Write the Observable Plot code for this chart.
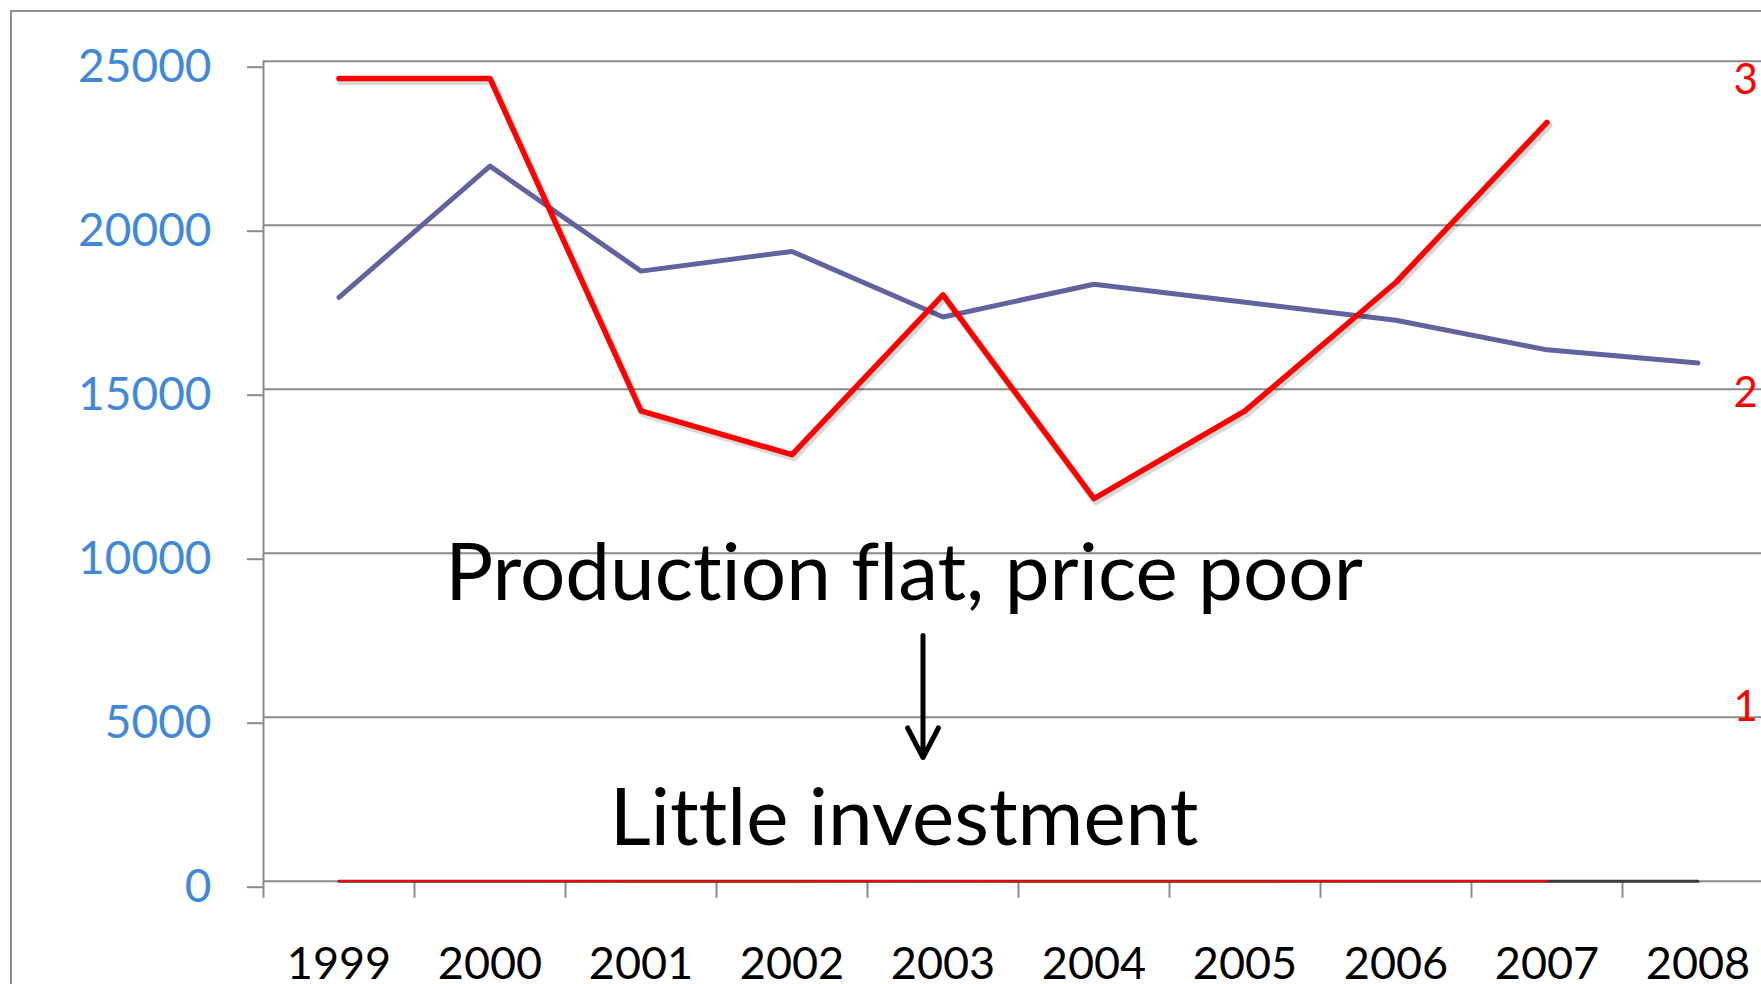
<!DOCTYPE html>
<html><head><meta charset="utf-8">
<script src="https://cdn.jsdelivr.net/npm/d3@7"></script>
<script src="https://cdn.jsdelivr.net/npm/@observablehq/plot@0.6"></script>
<style>
html,body{margin:0;padding:0;overflow:hidden;background:#fff;width:1761px;height:984px;}
#frame{position:absolute;left:10px;top:10px;width:2000px;height:2000px;border-left:2px solid #8e8e8e;border-top:2px solid #8e8e8e;}
#chart{position:absolute;left:0;top:0;width:1800px;height:984px;}
#chart svg{max-width:none !important;}
#chart svg text{font-variant-ligatures:none;font-feature-settings:"liga" 0, "clig" 0;}
</style></head><body>
<div id="frame"></div><div id="chart"></div>
<script>
// ---- data ----
const years = ["1999","2000","2001","2002","2003","2004","2005","2006","2007","2008"];
const production = [17800, 21800, 18600, 19200, 17200, 18200, 17650, 17100, 16200, 15800];
const priceYears = ["1999","2000","2001","2002","2003","2004","2005","2006","2007"];
const price = [3.0, 3.0, 1.94, 1.80, 2.31, 1.66, 1.94, 2.35, 2.86];
const otherSeries = [0, 0, 0, 0, 0, 0, 0, 0, 0, 0];
const leftTicks = [0, 5000, 10000, 15000, 20000, 25000];
const rightTicks = [1, 2, 3];
// secondary (price) axis: where price values sit on the primary axis
const rightAt = [1, 3];
const leftAt = [5357, 24473];
// annotations
const noteLabels = ["Production flat, price poor", "Little investment"];
const noteYears = ["2003", "2003"];
const noteValues = [8560, 1090];
const arrowYear = ["2003"];
const arrowFrom = [7490];
const arrowTo = [3770];

// ---- chart ----
const toLeft = d3.scaleLinear().domain(rightAt).range(leftAt);
const rows = years.map((y, i) => ({year: y, production: production[i], other: otherSeries[i]}));
const priceRows = priceYears.map((y, i) => ({year: y, price: price[i]}));
const notes = noteLabels.map((t, i) => ({label: t, year: noteYears[i], value: noteValues[i]}));
const arrows = arrowYear.map((y, i) => ({year: y, from: arrowFrom[i], to: arrowTo[i]}));

const W = 1800, ML = 263, MR = 27;
const half = (W - ML - MR) / years.length / 2;
const grid = "#8a8a8a";

const chart = Plot.plot({
  width: W, height: 984,
  marginLeft: ML, marginRight: MR, marginTop: 60.7, marginBottom: 103.3,
  style: {fontFamily: "Lato, 'Open Sans', sans-serif", background: "transparent", overflow: "visible", maxWidth: "none"},
  x: {type: "band", domain: years, padding: 0, label: null},
  y: {domain: [0, 25000], label: null},
  marks: [
    Plot.gridY(leftTicks, {stroke: grid, strokeOpacity: 1, strokeWidth: 2}),
    Plot.ruleX([years[0]], {dx: -half, y1: 0, y2: 25000, stroke: grid, strokeWidth: 2}),
    Plot.axisX({tickSize: 17, tickFormat: () => "", dx: -half, stroke: grid, strokeWidth: 2, label: null}),
    Plot.axisX({tickSize: 0, tickPadding: 66, fontSize: 45, fill: "#000", label: null}),
    Plot.axisY(leftTicks, {tickSize: 16, tickPadding: 36, stroke: grid, strokeWidth: 2, fill: "#4189d8", fontSize: 46, tickFormat: d => String(d), dy: 6, label: null}),
    Plot.axisY(rightTicks.map(toLeft), {anchor: "right", tickSize: 0, tickPadding: 0, dx: -40, dy: 2, fill: "#ff0000", fontSize: 42, tickFormat: d => String(Math.round(toLeft.invert(d))), label: null}),
    Plot.line(rows, {x: "year", y: "production", stroke: "#62629e", strokeWidth: 5}),
    Plot.line(rows, {x: "year", y: "other", stroke: "#3a3a3a", strokeWidth: 3}),
    Plot.line(priceRows, {x: "year", y: "price", stroke: "#ff0000", strokeWidth: 2}),
    Plot.line(priceRows, {x: "year", y: d => toLeft(d.price), stroke: "#000", strokeOpacity: 0.15, strokeWidth: 7, dx: 2, dy: 3}),
    Plot.line(priceRows, {x: "year", y: d => toLeft(d.price), stroke: "#ff0000", strokeWidth: 5.5}),
    Plot.text(notes, {x: "year", y: "value", text: "label", dx: -39, lineAnchor: "bottom", fontSize: 80, fill: "#000"}),
    Plot.arrow(arrows, {x1: "year", x2: "year", y1: "from", y2: "to", dx: -20, stroke: "#000", strokeWidth: 5, headLength: 10, headAngle: 55})
  ]
});
document.getElementById("chart").appendChild(chart);
</script>
</body></html>
